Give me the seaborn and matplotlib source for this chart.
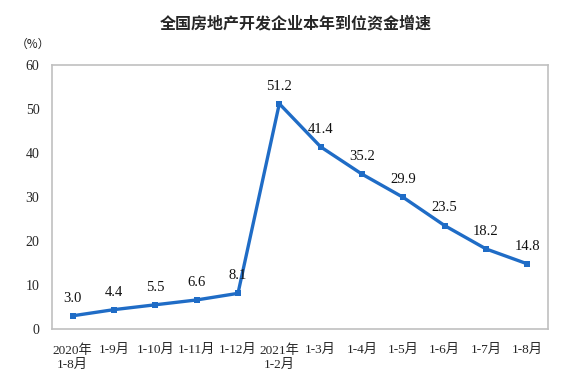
import pandas as pd
import matplotlib
matplotlib.use('Agg')
import matplotlib.pyplot as plt
import seaborn as sns

# 数据
periods = ['2020年\n1-8月', '1-9月', '1-10月', '1-11月', '1-12月', '2021年\n1-2月',
           '1-3月', '1-4月', '1-5月', '1-6月', '1-7月', '1-8月']
growth = [3.0, 4.4, 5.5, 6.6, 8.1, 51.2, 41.4, 35.2, 29.9, 23.5, 18.2, 14.8]
y_ticks = [0, 10, 20, 30, 40, 50, 60]

df = pd.DataFrame({'period': periods, 'growth': growth})

sns.set_style('white')
plt.rcParams['font.family'] = ['Liberation Serif', 'Noto Sans CJK SC']

fig = plt.figure(figsize=(5.75, 3.86), dpi=100)
ax = fig.add_axes([0.0904, 0.1477, 0.8626, 0.6839])

sns.lineplot(data=df, x='period', y='growth', sort=False, ax=ax,
             color='#1f6cc6', linewidth=2.4, marker='s', markersize=4.5,
             markeredgewidth=0)

for i, v in enumerate(growth):
    ax.annotate(f'{v:.1f}', (i, v), xytext=(0, 8), textcoords='offset points',
                ha='center', va='bottom', fontsize=10.5, color='#111111')

ax.set_xlim(-0.5, len(periods) - 0.5)
ax.set_ylim(0, 60)
ax.set_yticks(y_ticks)
ax.set_yticklabels([str(t) for t in y_ticks], fontsize=10)
ax.set_xticks(range(len(periods)))
ax.set_xticklabels(periods, fontsize=9.5, linespacing=1.25)
ax.set_xticks([i + 0.5 for i in range(len(periods) - 1)], minor=True)
ax.tick_params(axis='x', which='major', length=0, pad=11)
ax.tick_params(axis='x', which='minor', direction='in', length=5, color='#bbbbbb', width=1)
ax.tick_params(axis='y', length=0, pad=9)
ax.set_xlabel('')
ax.set_ylabel('')

for s in ax.spines.values():
    s.set_color('#c0c0c0')
    s.set_linewidth(1.2)

fig.text(0.515, 0.94, '全国房地产开发企业本年到位资金增速', ha='center', va='center',
         fontsize=11.5, family=['Noto Sans CJK SC'], fontweight='bold')
fig.text(0.058, 0.885, '（%）', ha='center', va='center', fontsize=8.5,
         family=['Noto Sans CJK SC'], color='#222222')

fig.savefig('out.png', dpi=100)
